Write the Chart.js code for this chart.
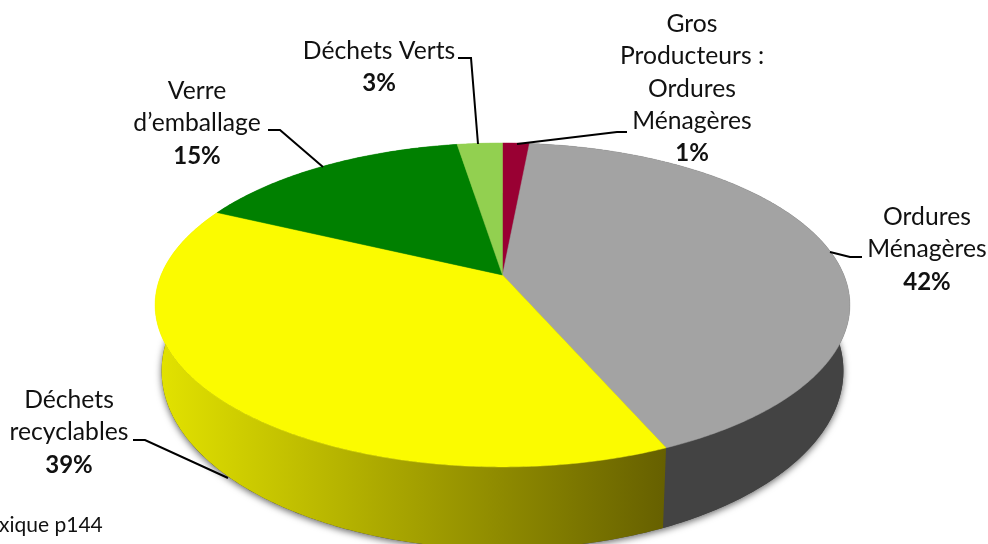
<!DOCTYPE html>
<html>
<head>
<meta charset="utf-8">
<title>Déchets</title>
<script src="https://cdn.jsdelivr.net/npm/chart.js@4"></script>
<style>
  html, body { margin: 0; padding: 0; background: #fff; overflow: hidden; }
  canvas { display: block; }
</style>
</head>
<body>
<canvas id="pie" width="988" height="544"></canvas>
<script>
// values (labels round them)
const categories = ["Gros Producteurs : Ordures Ménagères", "Ordures Ménagères", "Déchets recyclables", "Verre d’emballage", "Déchets Verts"]
const shares = [1.49, 42, 38.6, 15.4, 2.51]
const sliceColors = ["#990033", "#a3a3a3", "#fbfb00", "#008000", "#92d050"]
const labelLines = [
  ["Gros", "Producteurs :", "Ordures", "Ménagères"],
  ["Ordures", "Ménagères"],
  ["Déchets", "recyclables"],
  ["Verre", "d’emballage"],
  ["Déchets Verts"]
]
const footnote = "xique p144"

// where each label sits and how its leader runs, same order as categories
const labelBoxes = [
  { x: 692, y: 24, leader: [[517, 144], [617, 132], [627, 132]] },
  { x: 927, y: 217, leader: [[830, 252], [850, 257], [862, 257]] },
  { x: 69, y: 400, leader: [[133, 440], [145, 440], [228, 478]] },
  { x: 197, y: 91, leader: [[268, 130], [280, 130], [323, 167]] },
  { x: 379, y: 51, leader: [[458, 58], [471, 58], [478, 144]] }
]

// perspective of the disc: the apex is not the middle of the ellipse
const topFace = { cx: 502.5, y0: 275, a: 341.4, b: 156.4 }
const baseFace = { cx: 502.5, y0: 338, a: 335, b: 171.9 }
const tilt = 0.185

function project(face, angle, r) {
  const theta = angle + Math.PI / 2 // 0 at twelve o'clock
  const u = r * Math.sin(theta)
  const v = -r * Math.cos(theta)
  const d = 1 - tilt * v
  return [face.cx + face.a * u / d, face.y0 + face.b * v / d]
}

function arcPoints(face, start, end) {
  const steps = Math.max(2, Math.ceil((end - start) / 0.01))
  const pts = []
  for (let i = 0; i <= steps; i++) pts.push(project(face, start + (end - start) * i / steps, 1))
  return pts
}

function tracePath(ctx, pts) {
  ctx.beginPath()
  pts.forEach((p, i) => i ? ctx.lineTo(p[0], p[1]) : ctx.moveTo(p[0], p[1]))
  ctx.closePath()
}

function wallFill(ctx, index, color) {
  if (index === 2) {
    const g = ctx.createLinearGradient(160, 0, 665, 0)
    g.addColorStop(0, "#e2e200")
    g.addColorStop(1, "#666000")
    return g
  }
  return index === 1 ? "#434343" : color
}

const tiltedPie = {
  id: "tiltedPie",
  beforeDatasetsDraw(chart) {
    const ctx = chart.ctx
    const arcs = chart.getDatasetMeta(0).data
    const fullTurn = arcPoints(baseFace, 0, Math.PI * 2)

    // soft shadow under the base
    ctx.save()
    ctx.shadowColor = "rgba(0,0,0,0.6)"
    ctx.shadowBlur = 7
    ctx.shadowOffsetY = 2
    ctx.fillStyle = "#434343"
    tracePath(ctx, fullTurn)
    ctx.fill()
    ctx.restore()

    // side wall, slice by slice
    arcs.forEach((arc, i) => {
      const upper = arcPoints(topFace, arc.startAngle, arc.endAngle)
      const lower = arcPoints(baseFace, arc.startAngle, arc.endAngle).reverse()
      ctx.fillStyle = wallFill(ctx, i, arc.options.backgroundColor)
      tracePath(ctx, upper.concat(lower))
      ctx.fill()
    })

    // top face
    arcs.forEach((arc) => {
      const pts = [[topFace.cx, topFace.y0]].concat(arcPoints(topFace, arc.startAngle, arc.endAngle))
      ctx.fillStyle = arc.options.backgroundColor
      ctx.strokeStyle = arc.options.backgroundColor
      ctx.lineWidth = 0.5
      tracePath(ctx, pts)
      ctx.fill()
      ctx.stroke()
    })
    return false // the flat pie itself is not drawn
  },
  afterDraw(chart) {
    const ctx = chart.ctx
    ctx.save()
    ctx.strokeStyle = "#000"
    ctx.lineWidth = 2
    ctx.fillStyle = "#111"
    ctx.textAlign = "center"
    ctx.textBaseline = "middle"
    const step = 32.4
    labelBoxes.forEach((box, i) => {
      ctx.beginPath()
      box.leader.forEach((p, n) => n ? ctx.lineTo(p[0], p[1]) : ctx.moveTo(p[0], p[1]))
      ctx.stroke()

      ctx.font = "24.7px Lato"
      labelLines[i].forEach((line, n) => ctx.fillText(line, box.x, box.y + n * step))
      ctx.font = "bold 24px Lato"
      ctx.fillText(Math.round(shares[i]) + "%", box.x, box.y + labelLines[i].length * step)
    })
    ctx.font = "21px Lato"
    ctx.textAlign = "left"
    ctx.fillText(footnote, -1, 525)
    ctx.restore()
  }
}

new Chart(document.getElementById("pie"), {
  type: "pie",
  data: {
    labels: categories,
    datasets: [{ data: shares, backgroundColor: sliceColors, borderWidth: 0 }]
  },
  options: {
    responsive: false,
    animation: false,
    plugins: { legend: { display: false }, tooltip: { enabled: false } }
  },
  plugins: [tiltedPie]
})
</script>
</body>
</html>
